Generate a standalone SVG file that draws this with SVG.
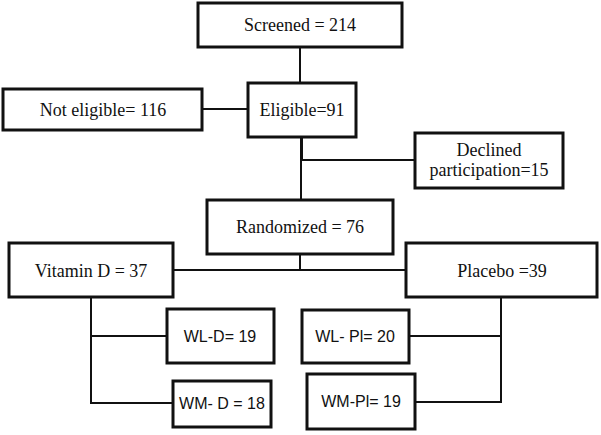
<svg xmlns="http://www.w3.org/2000/svg" width="601" height="435" viewBox="0 0 601 435">
<style>
.box{fill:#fff;stroke:#111;stroke-width:3}
.ln{fill:none;stroke:#111;stroke-width:2}
.t{font-family:"Liberation Serif","Times New Roman",serif;font-size:18px;fill:#111;text-anchor:middle}
.s{font-family:"Liberation Sans",Arial,sans-serif;font-size:16px;fill:#111;text-anchor:middle}
</style>
<rect width="601" height="435" fill="#fff"/>
<g id="connectors">
<line class="ln" x1="300" y1="47" x2="300" y2="83"/>
<line class="ln" x1="202" y1="109" x2="248" y2="109"/>
<line class="ln" x1="301" y1="137" x2="301" y2="200"/>
<polyline class="ln" points="302,137 302,160 415,160"/>
<line class="ln" x1="300" y1="254" x2="300" y2="270"/>
<line class="ln" x1="173" y1="270" x2="406" y2="270"/>
<polyline class="ln" points="91,297 91,403 173,403"/>
<line class="ln" x1="91" y1="336" x2="167" y2="336"/>
<polyline class="ln" points="501,297 501,402 415,402"/>
<line class="ln" x1="501" y1="336" x2="409" y2="336"/>
</g>
<g id="screened"><rect class="box" x="198" y="3" width="204" height="44"/><text class="t" x="300" y="31">Screened = 214</text></g>
<g id="eligible"><rect class="box" x="248" y="83" width="108" height="54"/><text class="t" x="302" y="116">Eligible=91</text></g>
<g id="not-eligible"><rect class="box" x="3" y="89" width="199" height="41"/><text class="t" x="103" y="116">Not eligible= 116</text></g>
<g id="declined"><rect class="box" x="415" y="133" width="148" height="55"/><text class="t" x="489" y="156">Declined</text><text class="t" x="489" y="176">participation=15</text></g>
<g id="randomized"><rect class="box" x="207" y="200" width="186" height="54"/><text class="t" x="300" y="233">Randomized = 76</text></g>
<g id="vitamin-d"><rect class="box" x="9" y="243" width="164" height="54"/><text class="t" x="91" y="277">Vitamin D = 37</text></g>
<g id="placebo"><rect class="box" x="406" y="243" width="191" height="54"/><text class="t" x="502" y="277">Placebo =39</text></g>
<g id="wl-d"><rect class="box" x="167" y="309" width="107" height="54"/><text class="s" x="220" y="342">WL-D= 19</text></g>
<g id="wm-d"><rect class="box" x="173" y="381" width="98" height="46"/><text class="s" x="222" y="409">WM- D = 18</text></g>
<g id="wl-pl"><rect class="box" x="302" y="310" width="107" height="53"/><text class="s" x="355" y="342">WL- Pl= 20</text></g>
<g id="wm-pl"><rect class="box" x="307" y="374" width="108" height="55"/><text class="s" x="361" y="407">WM-Pl= 19</text></g>
</svg>
